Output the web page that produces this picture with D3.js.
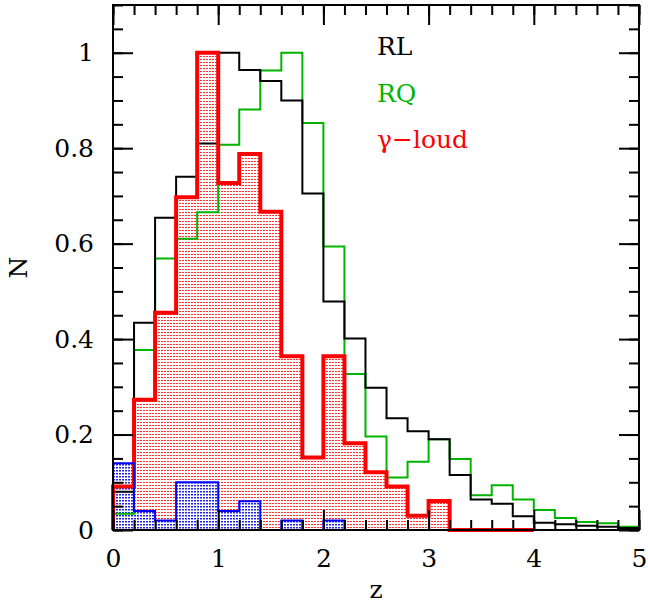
<!DOCTYPE html>
<html>
<head>
<meta charset="utf-8">
<script src="https://cdn.jsdelivr.net/npm/d3@7"></script>
<style>
  body { margin: 0; background: #fff; }
  text { font-family: "DejaVu Serif", serif; }
</style>
</head>
<body>
<svg id="chart" width="648" height="606"></svg>
<script>
// histogram bins: width 0.2 in z, starting at z = 0
const binWidth = 0.2;
const rlValues = [0.080, 0.434, 0.654, 0.740, 0.810, 1.000, 0.964, 0.941, 0.900, 0.705,
                  0.479, 0.401, 0.298, 0.234, 0.207, 0.190, 0.115, 0.064, 0.055, 0.029,
                  0.015, 0.012, 0.009, 0.007, 0.004];
const rqValues = [0.034, 0.377, 0.569, 0.610, 0.666, 0.807, 0.881, 0.963, 1.000, 0.853,
                  0.594, 0.327, 0.196, 0.110, 0.143, 0.190, 0.149, 0.073, 0.094, 0.064,
                  0.042, 0.025, 0.017, 0.014, 0.007];
const gammaValues = [0.091, 0.273, 0.455, 0.697, 1.000, 0.727, 0.788, 0.667, 0.364, 0.152,
                     0.364, 0.182, 0.121, 0.091, 0.030, 0.061, 0, 0, 0, 0];
const blueValues = [0.14, 0.04, 0.02, 0.10, 0.10, 0.04, 0.06, 0, 0.02, 0, 0.02];

const legendLabels = ["RL", "RQ", "\u03b3\u2212loud"];
const legendColors = ["#000000", "#00b400", "#ff0000"];

const xMajor = [0, 1, 2, 3, 4, 5];
const yMajor = [0, 0.2, 0.4, 0.6, 0.8, 1];

const svg = d3.select("#chart");
const margin = { top: 5, right: 9, bottom: 76, left: 113 };
const width = 648 - margin.left - margin.right;
const height = 606 - margin.top - margin.bottom;

const g = svg.append("g")
    .attr("transform", "translate(" + margin.left + "," + margin.top + ")");

const x = d3.scaleLinear().domain([0, 5]).range([0, width]);
const y = d3.scaleLinear().domain([0, 1.1]).range([height, 0]);

// fill patterns (dotted shading)
const defs = svg.append("defs");
const redPat = defs.append("pattern")
    .attr("id", "redDots")
    .attr("patternUnits", "userSpaceOnUse")
    .attr("width", 3).attr("height", 3);
redPat.append("rect").attr("x", 0).attr("y", 0).attr("width", 2).attr("height", 1)
    .attr("fill", "#ff3030");

const bluePat = defs.append("pattern")
    .attr("id", "blueDots")
    .attr("patternUnits", "userSpaceOnUse")
    .attr("width", 3).attr("height", 3);
bluePat.append("rect").attr("x", 0).attr("y", 0).attr("width", 2).attr("height", 1.5)
    .attr("fill", "#2020e0");

function stepPoints(values) {
  const pts = [[0, 0]];
  values.forEach(function(v, i) {
    pts.push([i * binWidth, v]);
    pts.push([(i + 1) * binWidth, v]);
  });
  pts.push([values.length * binWidth, 0]);
  return pts;
}

const line = d3.line()
    .x(d => x(d[0]))
    .y(d => y(d[1]));

// filled histograms
g.append("path")
    .attr("d", line(stepPoints(gammaValues)) + "Z")
    .attr("fill", "url(#redDots)")
    .attr("stroke", "none");

g.append("path")
    .attr("d", line(stepPoints(blueValues)) + "Z")
    .attr("fill", "url(#blueDots)")
    .attr("stroke", "none");

// outlines
g.append("path")
    .attr("d", line(stepPoints(rqValues)))
    .attr("fill", "none")
    .attr("stroke", "#00b400")
    .attr("stroke-width", 2);

g.append("path")
    .attr("d", line(stepPoints(rlValues)))
    .attr("fill", "none")
    .attr("stroke", "#000")
    .attr("stroke-width", 2);

g.append("path")
    .attr("d", line(stepPoints(gammaValues)))
    .attr("fill", "none")
    .attr("stroke", "#ff0000")
    .attr("stroke-width", 4);

g.append("path")
    .attr("d", line(stepPoints(blueValues)))
    .attr("fill", "none")
    .attr("stroke", "#0000ff")
    .attr("stroke-width", 2);

// axes: major + minor ticks on all four sides, pointing inward
const xMinor = d3.range(0, 5.0001, 0.2);
const yMinor = d3.range(0, 1.1001, 0.05);

function styleAxis(sel) {
  sel.select(".domain").remove();
  sel.selectAll(".tick line").attr("stroke", "#000").attr("stroke-width", 2);
  sel.selectAll(".tick text")
      .attr("fill", "#000")
      .style("font-size", "25px")
      .style("font-family", "'DejaVu Serif', serif");
}

g.append("g").attr("transform", "translate(0," + height + ")")
    .call(d3.axisBottom(x).tickValues(xMinor).tickSize(-10).tickFormat(""))
    .call(styleAxis);
g.append("g").attr("transform", "translate(0," + height + ")")
    .call(d3.axisBottom(x).tickValues(xMajor).tickSize(-20).tickPadding(19).tickFormat(d3.format("~g")))
    .call(styleAxis);
g.append("g")
    .call(d3.axisTop(x).tickValues(xMinor).tickSize(-10).tickFormat(""))
    .call(styleAxis);
g.append("g")
    .call(d3.axisTop(x).tickValues(xMajor).tickSize(-20).tickFormat(""))
    .call(styleAxis);

g.append("g")
    .call(d3.axisLeft(y).tickValues(yMinor).tickSize(-10).tickFormat(""))
    .call(styleAxis);
g.append("g")
    .call(d3.axisLeft(y).tickValues(yMajor).tickSize(-20).tickPadding(19).tickFormat(d3.format("~g")))
    .call(styleAxis);
g.append("g").attr("transform", "translate(" + width + ",0)")
    .call(d3.axisRight(y).tickValues(yMinor).tickSize(-10).tickFormat(""))
    .call(styleAxis);
g.append("g").attr("transform", "translate(" + width + ",0)")
    .call(d3.axisRight(y).tickValues(yMajor).tickSize(-20).tickFormat(""))
    .call(styleAxis);

// frame
g.append("rect")
    .attr("x", 0).attr("y", 0)
    .attr("width", width).attr("height", height)
    .attr("fill", "none")
    .attr("stroke", "#000")
    .attr("stroke-width", 2);

// axis titles
g.append("text")
    .attr("x", width / 2)
    .attr("y", height + 68)
    .attr("text-anchor", "middle")
    .style("font-size", "25px")
    .text("z");

svg.append("text")
    .attr("transform", "translate(27," + (margin.top + height / 2) + ") rotate(-90)")
    .attr("text-anchor", "middle")
    .style("font-size", "25px")
    .text("N");

// legend
g.selectAll("text.legend").data(legendLabels)
    .join("text")
    .attr("class", "legend")
    .attr("x", 264)
    .attr("y", (d, i) => 50 + i * 46.5)
    .attr("fill", (d, i) => legendColors[i])
    .style("font-size", "25px")
    .text(d => d);
</script>
</body>
</html>
